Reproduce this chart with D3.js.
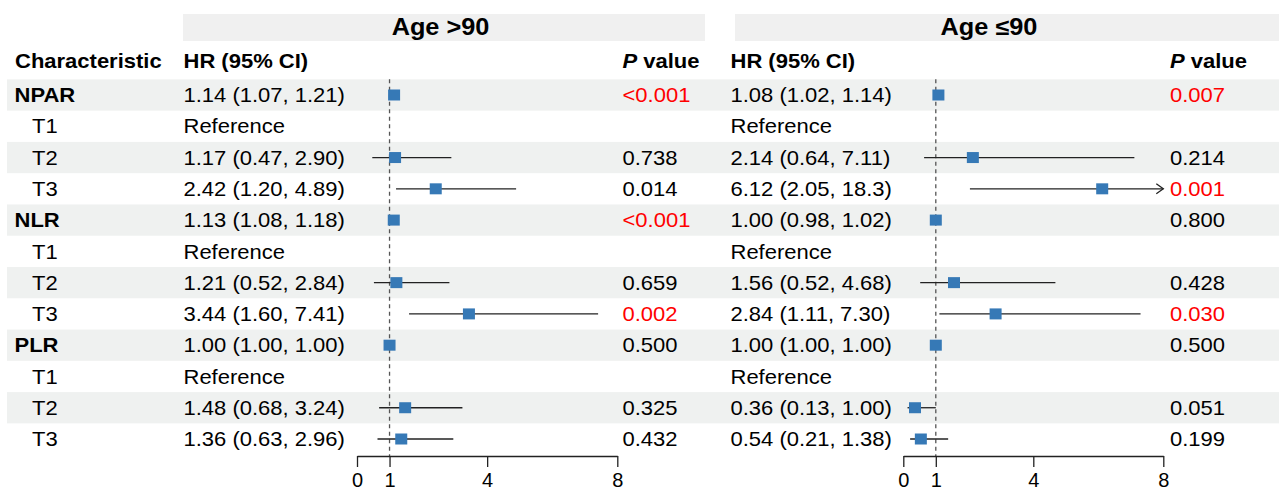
<!DOCTYPE html>
<html>
<head>
<meta charset="utf-8">
<script src="https://cdn.jsdelivr.net/npm/d3@7"></script>
<style>
html,body{margin:0;padding:0;background:#fff;}
svg{display:block;font-family:"Liberation Sans",Arial,Helvetica,sans-serif;}
</style>
</head>
<body>
<svg id="chart" width="1279" height="491"></svg>
<script>
// ---- data ----
const panelTitles = ["Age >90", "Age \u226490"];
const labels = ["NPAR","T1","T2","T3","NLR","T1","T2","T3","PLR","T1","T2","T3"];
const isGroup = [true,false,false,false,true,false,false,false,true,false,false,false];

const hrA   = [1.14, null, 1.17, 2.42, 1.13, null, 1.21, 3.44, 1.00, null, 1.48, 1.36];
const lowA  = [1.07, null, 0.47, 1.20, 1.08, null, 0.52, 1.60, 1.00, null, 0.68, 0.63];
const highA = [1.21, null, 2.90, 4.89, 1.18, null, 2.84, 7.41, 1.00, null, 3.24, 2.96];
const pA    = ["<0.001", "", "0.738", "0.014", "<0.001", "", "0.659", "0.002", "0.500", "", "0.325", "0.432"];
const redA  = [true,false,false,false,true,false,false,true,false,false,false,false];

const hrB   = [1.08, null, 2.14, 6.12, 1.00, null, 1.56, 2.84, 1.00, null, 0.36, 0.54];
const lowB  = [1.02, null, 0.64, 2.05, 0.98, null, 0.52, 1.11, 1.00, null, 0.13, 0.21];
const highB = [1.14, null, 7.11, 18.3, 1.02, null, 4.68, 7.30, 1.00, null, 1.00, 1.38];
const pB    = ["0.007", "", "0.214", "0.001", "0.800", "", "0.428", "0.030", "0.500", "", "0.051", "0.199"];
const redB  = [true,false,false,true,false,false,false,true,false,false,false,false];

const axisTicks = [0, 1, 4, 8];
const xDomain = [0, 8];

// ---- layout ----
const svg = d3.select("#chart");
const FS = 20, SX = 1.1;
const rowY = d3.scaleLinear().domain([0, labels.length - 1]).range([95, 439]);
const rowH = (439 - 95) / (labels.length - 1);
const fmt = v => v >= 10 ? v.toFixed(1) : v.toFixed(2);

function txt(g, x, y, s, opts = {}) {
  const t = g.append("text")
    .attr("transform", `translate(${x},${y}) scale(${opts.sx || SX},1)`)
    .attr("font-size", opts.size || FS)
    .attr("font-weight", opts.bold ? "bold" : "normal")
    .attr("fill", opts.fill || "#000")
    .attr("text-anchor", opts.anchor || "start");
  if (opts.html) t.html(s); else t.text(s);
  return t;
}

// row shading
svg.append("g").selectAll("rect")
  .data(labels.map((d, i) => i).filter(i => i % 2 === 0))
  .join("rect")
  .attr("x", 7).attr("width", 1279 - 7)
  .attr("y", i => rowY(i) - rowH / 2).attr("height", rowH)
  .attr("fill", "#eff1f0");

// left label column
const gLab = svg.append("g");
txt(gLab, 15, 67.5, "Characteristic", {bold: true});
labels.forEach((l, i) => {
  txt(gLab, isGroup[i] ? 14.5 : 32, rowY(i) + 7.2, l, {bold: isGroup[i]});
});

const panels = [
  {title: panelTitles[0], hr: hrA, lo: lowA, hi: highA, p: pA, red: redA,
   boxX: [183, 705], titleX: 440.5, hrX: 183.5, pX: 622.5, range: [357, 617.3]},
  {title: panelTitles[1], hr: hrB, lo: lowB, hi: highB, p: pB, red: redB,
   boxX: [735, 1279], titleX: 989, hrX: 730.5, pX: 1170, range: [903.3, 1163.3]}
];

panels.forEach(P => {
  const g = svg.append("g");
  const x = d3.scaleLinear().domain(xDomain).range(P.range);

  // title box
  g.append("rect").attr("x", P.boxX[0]).attr("y", 14)
    .attr("width", P.boxX[1] - P.boxX[0]).attr("height", 27).attr("fill", "#f0f0f0");
  txt(g, P.titleX, 35, P.title, {bold: true, size: 23, anchor: "middle"});

  // headers
  txt(g, P.hrX, 67.5, "HR (95% CI)", {bold: true});
  txt(g, P.pX, 67.5, '<tspan font-style="italic">P</tspan> value', {bold: true, html: true});

  // HR text and p values
  P.hr.forEach((h, i) => {
    const s = h == null ? "Reference" : `${fmt(h)} (${fmt(P.lo[i])}, ${fmt(P.hi[i])})`;
    txt(g, P.hrX, rowY(i) + 7.2, s);
    if (P.p[i]) txt(g, P.pX, rowY(i) + 7.2, P.p[i], {fill: P.red[i] ? "#ff0000" : "#000"});
  });

  // reference dashed line
  g.append("line").attr("x1", x(1)).attr("x2", x(1))
    .attr("y1", rowY(0) - rowH / 2).attr("y2", 456)
    .attr("stroke", "#555").attr("stroke-width", 1.3).attr("stroke-dasharray", "4,3.5");

  // CI lines
  const idx = P.hr.map((h, i) => i).filter(i => P.hr[i] != null);
  const xmax = xDomain[1];
  idx.forEach(i => {
    const lo = Math.max(xDomain[0], P.lo[i]);
    const hi = Math.min(xmax, P.hi[i]);
    const y = rowY(i);
    g.append("line").attr("x1", x(lo)).attr("x2", x(hi)).attr("y1", y).attr("y2", y)
      .attr("stroke", "#222").attr("stroke-width", 1.3);
    if (P.hi[i] > xmax) {
      const xe = x(xmax);
      g.append("path").attr("d", `M${xe - 7},${y - 5}L${xe},${y}L${xe - 7},${y + 5}`)
        .attr("fill", "none").attr("stroke", "#222").attr("stroke-width", 1.3);
    }
  });

  // squares
  g.append("g").selectAll("rect").data(idx).join("rect")
    .attr("x", i => x(P.hr[i]) - 6).attr("y", i => rowY(i) - 5.5)
    .attr("width", 12).attr("height", 11).attr("fill", "#3679b6");

  // axis
  const ax = g.append("g").attr("transform", "translate(0,456)")
    .call(d3.axisBottom(x).tickValues(axisTicks).tickFormat(d3.format("d"))
      .tickSize(11).tickSizeOuter(0).tickPadding(6));
  ax.select(".domain").attr("stroke", "#222").attr("stroke-width", 1.3);
  ax.selectAll(".tick line").attr("stroke", "#222").attr("stroke-width", 1.3);
  ax.selectAll(".tick text").attr("font-size", FS).attr("fill", "#000")
    .attr("font-family", "Liberation Sans, Arial, sans-serif");
});
</script>
</body>
</html>
